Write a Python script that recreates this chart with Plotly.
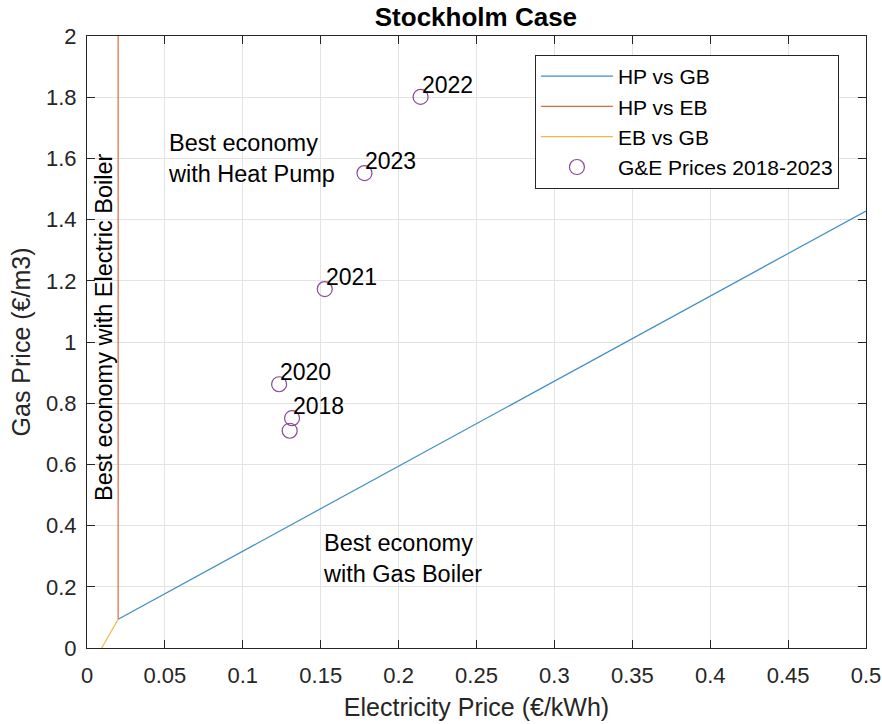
import plotly.graph_objects as go

# Break-even boundaries between heating options
hp_gb_x = [0.02, 0.5]
hp_gb_y = [0.094, 1.428]
hp_eb_x = [0.02, 0.02]
hp_eb_y = [0.094, 2.0]
eb_gb_x = [0.0094, 0.02]
eb_gb_y = [0.0, 0.094]

# Yearly gas & electricity prices
elec_price = [0.1316, 0.1301, 0.1233, 0.1526, 0.2141, 0.1781]
gas_price = [0.751, 0.710, 0.862, 1.173, 1.801, 1.552]
year_labels = ["2018", "", "2020", "2021", "2022", "2023"]

x_ticks = [0, 0.05, 0.1, 0.15, 0.2, 0.25, 0.3, 0.35, 0.4, 0.45, 0.5]
x_tick_text = ["0", "0.05", "0.1", "0.15", "0.2", "0.25", "0.3", "0.35", "0.4", "0.45", "0.5"]
y_ticks = [0, 0.2, 0.4, 0.6, 0.8, 1.0, 1.2, 1.4, 1.6, 1.8, 2.0]
y_tick_text = ["0", "0.2", "0.4", "0.6", "0.8", "1", "1.2", "1.4", "1.6", "1.8", "2"]

FONT = "Liberation Sans, Arial, sans-serif"

fig = go.Figure()
fig.add_trace(go.Scatter(x=hp_gb_x, y=hp_gb_y, mode="lines", name="HP vs GB",
                         line=dict(color="#3d8fc4", width=1.2)))
fig.add_trace(go.Scatter(x=hp_eb_x, y=hp_eb_y, mode="lines", name="HP vs EB",
                         line=dict(color="#dd6a3a", width=1.2)))
fig.add_trace(go.Scatter(x=eb_gb_x, y=eb_gb_y, mode="lines", name="EB vs GB",
                         line=dict(color="#edbb3c", width=1.2)))
fig.add_trace(go.Scatter(x=elec_price, y=gas_price, mode="markers",
                         name="G&E Prices 2018-2023",
                         marker=dict(symbol="circle-open", size=15, color="#8a4a99",
                                     line=dict(width=1.2, color="#8a4a99"))))

annotations = []
for xv, yv, lab in zip(elec_price, gas_price, year_labels):
    if lab:
        annotations.append(dict(x=xv, y=yv, text=lab, showarrow=False,
                                xanchor="left", yanchor="bottom", xshift=-1, yshift=-3,
                                font=dict(size=23, color="black", family=FONT)))

annotations += [
    dict(x=0.0506, y=1.601, text="Best economy<br>with Heat Pump", showarrow=False,
         xanchor="left", yanchor="middle", align="left",
         font=dict(size=23.5, color="black", family=FONT)),
    dict(x=0.15, y=0.294, text="Best economy<br>with Gas Boiler", showarrow=False,
         xanchor="left", yanchor="middle", align="left",
         font=dict(size=23.5, color="black", family=FONT)),
    dict(x=0.0109, y=1.049, text="Best economy with Electric Boiler", showarrow=False,
         textangle=-90, xanchor="center", yanchor="middle",
         font=dict(size=23.5, color="black", family=FONT)),
]

axis_common = dict(showgrid=True, gridcolor="#e3e3e3", gridwidth=1,
                   showline=True, linecolor="#262626", linewidth=1, mirror="ticks",
                   ticks="inside", ticklen=8, tickcolor="#262626", zeroline=False,
                   automargin=False,
                   tickfont=dict(size=22, color="#262626", family=FONT))

fig.update_layout(
    width=882, height=724,
    margin=dict(l=87, r=16, t=36, b=76),
    paper_bgcolor="white", plot_bgcolor="white",
    title=dict(text="<b>Stockholm Case</b>", x=0.5396, xanchor="center", y=0.976,
               yanchor="middle", font=dict(size=26, color="black", family=FONT)),
    xaxis=dict(range=[0, 0.5], tickvals=x_ticks, ticktext=x_tick_text,
               ticklabelstandoff=8,
               title=dict(text="Electricity Price (€/kWh)", standoff=11,
                          font=dict(size=25, color="#262626", family=FONT)),
               **axis_common),
    yaxis=dict(range=[0, 2], tickvals=y_ticks, ticktext=y_tick_text,
               ticklabelstandoff=5,
               title=dict(text="Gas Price (€/m3)", standoff=8,
                          font=dict(size=25, color="#262626", family=FONT)),
               **axis_common),
    legend=dict(x=0.575, y=0.969, xanchor="left", yanchor="top",
                bgcolor="white", bordercolor="#262626", borderwidth=1,
                font=dict(size=21, color="black", family=FONT),
                tracegroupgap=0, itemwidth=72),
    annotations=annotations,
    showlegend=True,
)

fig.write_html("out.html")
